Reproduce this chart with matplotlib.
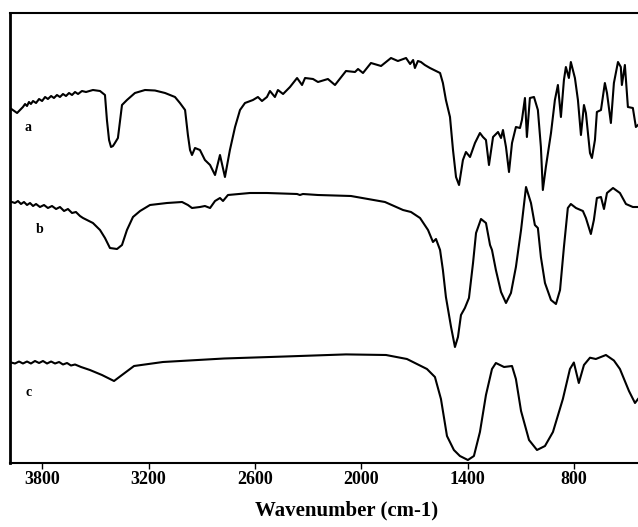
import matplotlib
matplotlib.use("Agg")
import matplotlib.pyplot as plt

# FTIR spectra, wavenumber (cm-1) vs offset transmittance (arbitrary units)
wn_a = [3982, 3942, 3909, 3897, 3886, 3875, 3864, 3852, 3835, 3818, 3801, 3784, 3768, 3750,
        3734, 3717, 3700, 3683, 3666, 3649, 3632, 3615, 3598, 3576, 3553, 3514, 3474, 3446,
        3435, 3423, 3412, 3401, 3390, 3373, 3350, 3322, 3277, 3220, 3164, 3107, 3051, 3023,
        2994, 2978, 2966, 2955, 2938, 2910, 2882, 2853, 2825, 2797, 2769, 2741, 2712, 2684,
        2656, 2611, 2583, 2560, 2532, 2515, 2487, 2470, 2441, 2402, 2362, 2334, 2317, 2272,
        2244, 2188, 2148, 2086, 2035, 2018, 1990, 1945, 1888, 1832, 1793, 1747, 1724, 1707,
        1697, 1680, 1663, 1641, 1612, 1555, 1539, 1522, 1499, 1482, 1465, 1448, 1426, 1409,
        1386, 1358, 1330, 1313, 1296, 1279, 1256, 1228, 1211, 1200, 1183, 1166, 1149, 1127,
        1104, 1093, 1076, 1065, 1048, 1025, 1003, 986, 975, 958, 929, 907, 890, 873,
        856, 845, 828, 817, 794, 777, 760, 743, 732, 709, 698, 681, 670, 647,
        625, 613, 591, 574, 551, 535, 529, 512, 495, 467, 450, 438]
t_a = [355, 350, 356, 359, 357, 361, 359, 362, 360, 364, 362, 366, 364, 367,
       365, 368, 366, 369, 367, 370, 368, 371, 369, 372, 371, 373, 372, 368,
       343, 323, 316, 317, 320, 325, 358, 363, 370, 373, 372.5, 370, 366, 360,
       353, 328, 313, 308, 315, 313, 303, 298, 288, 308, 286, 313, 336, 353,
       360, 363, 366, 362, 366, 372, 366, 373, 369, 376, 385, 378, 385, 384,
       381, 384, 378, 392, 391, 394, 390, 400, 397, 405, 402, 405, 399, 403,
       395, 402, 401, 398, 395, 390, 380, 363, 346, 313, 286, 278, 303, 311,
       306, 320, 330, 326, 323, 298, 326, 331, 325, 333, 316, 291, 320, 336,
       335, 343, 365, 326, 365, 366, 353, 316, 273, 296, 330, 363, 378, 346,
       383, 396, 385, 401, 385, 363, 328, 358, 350, 310, 305, 323, 351, 353,
       380, 370, 340, 380, 401, 396, 378, 398, 356, 355, 336, 338]

wn_b = [3971, 3954, 3937, 3920, 3903, 3886, 3869, 3852, 3835, 3813, 3790, 3768, 3745, 3722,
        3700, 3677, 3655, 3632, 3610, 3587, 3570, 3514, 3474, 3446, 3418, 3378, 3350, 3322,
        3288, 3248, 3192, 3096, 3011, 2978, 2955, 2910, 2882, 2853, 2825, 2797, 2780, 2752,
        2628, 2532, 2362, 2346, 2329, 2244, 2058, 1866, 1764, 1719, 1668, 1623, 1595, 1578,
        1555, 1539, 1522, 1493, 1471, 1454, 1437, 1415, 1392, 1369, 1352, 1324, 1296, 1273,
        1262, 1240, 1211, 1183, 1155, 1127, 1098, 1070, 1042, 1020, 1003, 986, 963, 929,
        901, 878, 856, 834, 817, 788, 749, 732, 704, 687, 670, 647, 630, 613,
        579, 540, 506, 467, 438]
t_b = [261, 260, 262, 259, 261, 258, 260, 257, 259, 256, 258, 255, 257, 254,
       256, 252, 254, 250, 251, 247, 245, 240, 233, 225, 215, 214, 218, 233,
       246, 252, 258, 260, 261, 258, 255, 256, 257, 255, 262, 265, 262, 268,
       270, 270, 269, 268, 269, 268, 267, 261, 253, 251, 245, 233, 221, 224,
       213, 193, 166, 136, 116, 126, 148, 155, 165, 200, 230, 244, 240, 218,
       213, 193, 171, 160, 170, 196, 233, 276, 260, 238, 235, 206, 180, 163,
       159, 173, 216, 255, 259, 255, 252, 245, 229, 243, 265, 266, 254, 270,
       275, 270, 259, 256, 256]

wn_c = [3976, 3954, 3931, 3909, 3886, 3864, 3841, 3818, 3796, 3773, 3750, 3728, 3705, 3683,
        3660, 3638, 3615, 3581, 3531, 3463, 3395, 3350, 3282, 3119, 2774, 2430, 2086, 1860,
        1742, 1629, 1584, 1550, 1516, 1477, 1443, 1398, 1364, 1330, 1296, 1262, 1240, 1194,
        1149, 1127, 1098, 1053, 1008, 963, 918, 862, 822, 800, 772, 743, 709, 676,
        619, 574, 540, 489, 455, 438]
t_c = [100.5, 99.5, 101.5, 99.5, 101.5, 99.5, 102, 100, 102, 99.5, 101.5, 99.5, 101, 98.5,
       100, 97.5, 98.5, 96, 93, 88, 82, 88, 97, 101, 104.5, 106.5, 108.6, 108,
       104, 94, 86, 64, 27, 13, 7, 3, 7, 31, 68, 94, 100, 96,
       97, 84, 52, 23, 13, 17, 31, 64, 94, 100.5, 80, 98, 105.3, 104,
       108, 102.5, 94, 72, 60, 64]

series = [(wn_a, t_a, "a", 3880, 335), (wn_b, t_b, "b", 3813, 233), (wn_c, t_c, "c", 3880, 70)]
ticks = [3800, 3200, 2600, 2000, 1400, 800]

serif = "Liberation Serif"

fig = plt.figure(figsize=(6.38, 5.27), dpi=100)
ax = fig.add_axes([10 / 638, 64 / 527, 628 / 638, 450.3 / 527])

for wn, t, name, lx, ly in series:
    ax.plot(wn, t, color="black", lw=1.5, solid_joinstyle="round")
    ax.text(lx, ly, name, fontfamily=serif, fontweight="bold", fontsize=10,
            ha="center", va="center")

ax.set_xlim(3982, 438)
ax.set_ylim(0, 450.3)
ax.set_xticks(ticks)
ax.set_xticklabels([str(v) for v in ticks], fontfamily=serif, fontweight="bold", fontsize=13)
ax.set_yticks([])
ax.tick_params(axis="x", direction="out", length=4, width=1, pad=2)
ax.spines["right"].set_visible(False)
ax.spines["left"].set_linewidth(2)
ax.spines["top"].set_linewidth(1.5)
ax.spines["bottom"].set_linewidth(1.5)

fig.text(347 / 638, 1 - 510 / 527, "Wavenumber (cm-1)", fontfamily=serif, fontweight="bold",
         fontsize=15, ha="center", va="center")

fig.savefig("out.png", dpi=100)
